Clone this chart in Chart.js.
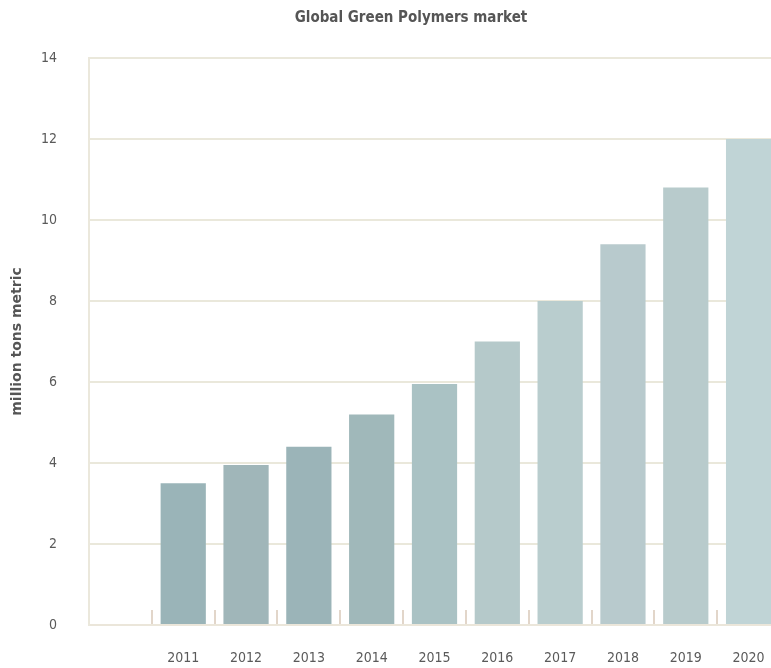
<!DOCTYPE html>
<html>
<head>
<meta charset="utf-8">
<title>Global Green Polymers market</title>
<script src="https://cdn.jsdelivr.net/npm/chart.js@4.4.1/dist/chart.umd.min.js"></script>
<style>
    html, body { margin: 0; padding: 0; background: #fff; overflow: hidden; }
    canvas { display: block; }
</style>
</head>
<body>
<canvas id="myChart" width="822" height="668"></canvas>
<script>
// market volume per year, million tons metric
const years = ['2011', '2012', '2013', '2014', '2015', '2016', '2017', '2018', '2019', '2020'];
const volumes = [3.5, 3.95, 4.4, 5.2, 5.95, 7.0, 8.0, 9.4, 10.8, 12.0];
const barColors = ['#9ab4b8', '#a0b6b9', '#9bb4b8', '#a0b8ba', '#aac2c4', '#b5c9ca', '#b9cdce', '#b8cacd', '#b8cbcc', '#c0d4d6'];
const yTicks = [0, 2, 4, 6, 8, 10, 12, 14];

document.addEventListener("DOMContentLoaded", (e) => {
    // leading empty slot before the first year
    const labels = [''].concat(years);

    const data = {
        labels: labels,
        datasets: [{
            label: 'Global Green Polymers',
            data: [null].concat(volumes),
            backgroundColor: ['#ffffff'].concat(barColors),
            borderWidth: 0,
            barPercentage: 0.72,
            categoryPercentage: 1.0
        }]
    };

    const gridColor = 'rgba(200, 195, 160, 0.38)';
    const textFont = '"DejaVu Sans Condensed", "DejaVu Sans", sans-serif';

    const config = {
        type: 'bar',
        data: data,
        options: {
            responsive: false,
            animation: false,
            plugins: {
                legend: { display: false },
                tooltip: { enabled: false },
                title: {
                    display: true,
                    text: 'Global Green Polymers market',
                    color: '#555555',
                    font: { family: textFont, size: 15, weight: 'bold' },
                    padding: { top: 9, bottom: 31 }
                }
            },
            scales: {
                x: {
                    offset: true,
                    grid: {
                        offset: true,
                        drawOnChartArea: false,
                        drawTicks: true,
                        tickLength: -15,
                        tickColor: '#e2d6ca',
                        lineWidth: 2
                    },
                    border: { color: '#ebe6da', width: 2 },
                    ticks: {
                        color: '#5a5a5a',
                        font: { family: textFont, size: 14 },
                        padding: 40,
                        maxRotation: 0,
                        autoSkip: false
                    },
                    afterFit: (scale) => { scale.height = 43; }
                },
                y: {
                    min: 0,
                    max: 14,
                    z: 1,
                    afterBuildTicks: (scale) => {
                        scale.ticks = yTicks.map((v) => ({ value: v }));
                    },
                    grid: {
                        color: gridColor,
                        lineWidth: 2,
                        drawTicks: false
                    },
                    border: { color: '#ebe8dc', width: 2 },
                    ticks: {
                        color: '#5a5a5a',
                        font: { family: textFont, size: 14 },
                        padding: 32
                    },
                    title: {
                        display: true,
                        text: 'million tons metric',
                        color: '#555555',
                        font: { family: '"DejaVu Sans", sans-serif', size: 14, weight: 'bold' },
                        padding: { top: 9, bottom: 0 }
                    },
                    afterFit: (scale) => { scale.width = 89; }
                },
                // empty right-hand axis, only reserves space past the last bar
                yRight: {
                    type: 'linear',
                    position: 'right',
                    min: 0,
                    max: 14,
                    grid: { display: false },
                    border: { display: false },
                    ticks: { display: false },
                    afterFit: (scale) => { scale.width = 42; }
                }
            }
        }
    };

    var myChart = new Chart(document.getElementById('myChart'), config);
});
</script>
</body>
</html>
